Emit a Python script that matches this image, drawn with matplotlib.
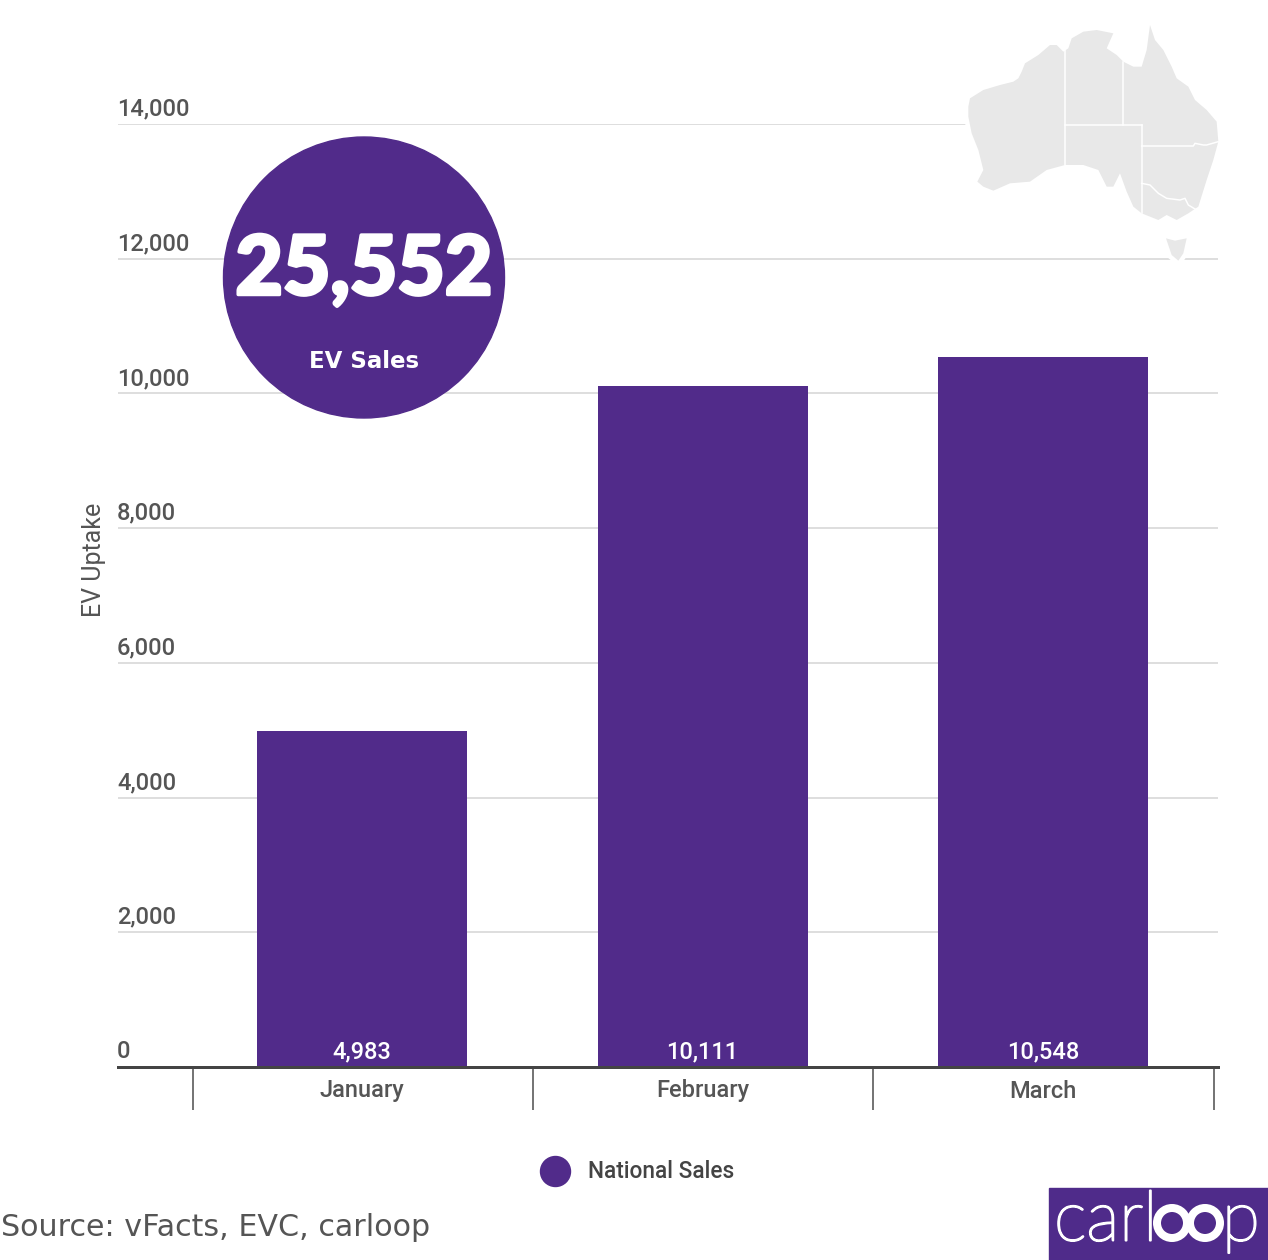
from matplotlib import pyplot as plt
from matplotlib import patheffects as pe
from matplotlib.lines import Line2D
from matplotlib.patches import Circle, Polygon, Rectangle, Ellipse

months = ["January", "February", "March"]
sales = [4983, 10111, 10548]
sale_labels = ["4,983", "10,111", "10,548"]
y_ticks = [0, 2000, 4000, 6000, 8000, 10000, 12000, 14000]
y_labels = ["0", "2,000", "4,000", "6,000", "8,000", "10,000", "12,000", "14,000"]

# map, zoom crop coords
mainland = [(55,290),(60,265),(100,240),(150,225),(190,215),(205,205),(215,185),(225,160),(265,135),(300,105),(320,105),
            (340,125),(355,115),(365,85),(400,65),(440,60),(490,70),(470,115),(500,135),(520,155),(550,170),
            (575,170),(590,120),(600,45),(615,90),(640,120),(665,170),(680,205),(715,230),(735,270),(770,300),
            (800,335),(805,395),(790,450),(770,510),(745,590),(715,610),(680,630),(650,615),(625,630),(575,610),
            (550,590),(530,545),(510,490),(490,530),(470,530),(445,480),(400,465),(345,465),(290,480),(240,515),
            (180,520),(130,542),(100,530),(82,515),(100,480),(85,420),(65,370),(55,320)]
tasmania = [(648,685),(675,692),(710,685),(700,730),(685,752),(665,735)]
borders = [[(345,120),(345,465)],
           [(345,345),(575,345)],
           [(520,155),(520,345)],
           [(575,345),(575,610)],
           [(575,408),(730,408),(735,400),(760,405),(770,405),(805,395)],
           [(575,520),(600,525),(625,550),(650,565),(690,570),(705,565),(715,585),(740,600)]]

PURPLE = '#512b8a'
TEXT = '#555555'
W, H = 1268, 1260
px = 0.72  # points per pixel at dpi 100


def toPixels(points):
    return [(950 + p[0] / 3, 10 + p[1] / 3) for p in points]


plt.rcParams['font.family'] = ['Roboto', 'DejaVu Sans']

fig = plt.figure(figsize=(W / 100, H / 100), dpi=100, facecolor='white')
ax = fig.add_axes([118 / W, (H - 1067) / H, 1100 / W, 943 / H])

x = list(range(len(months)))
bars = ax.bar(x, sales, width=0.617, color=PURPLE, zorder=2)
ax.set_xlim(-0.717, 2.514)
ax.set_ylim(0, 14000)

ax.set_yticks(y_ticks)
ax.set_yticklabels([])
ax.tick_params(axis='y', length=0)
ax.grid(axis='y', color='#dedede', lw=2 * px, zorder=0)
ax.set_axisbelow(True)

for v, lab in zip(y_ticks, y_labels):
    ax.annotate(lab, xy=(0, v), xycoords=ax.get_yaxis_transform(), xytext=(-1 * px, 15 * px),
                textcoords='offset points', ha='left', va='center', fontsize=17, color=TEXT,
                weight='medium')

for i, lab in zip(x, sale_labels):
    ax.annotate(lab, xy=(i, 0), xytext=(0, 15 * px), textcoords='offset points',
                ha='center', va='center', fontsize=17, color='white', zorder=3, weight='medium')

ax.set_xticks(x)
ax.set_xticklabels(months, fontsize=17, color=TEXT, weight='medium')
ax.set_xticks([-0.498, 0.502, 1.502, 2.502], minor=True)
ax.tick_params(axis='x', which='major', length=0, pad=9)
ax.tick_params(axis='x', which='minor', length=43 * px, width=1.6 * px, color=TEXT)

for s in ['top', 'left', 'right']:
    ax.spines[s].set_visible(False)
ax.spines['bottom'].set_color('#444444')
ax.spines['bottom'].set_linewidth(3 * px)

fig.text(94.5 / W, 1 - 560 / H, "EV Uptake", rotation=90, ha='center', va='center', fontsize=18,
         color=TEXT)

# legend
handle = Line2D([], [], marker='o', ls='none', color=PURPLE, markersize=30 * px, label="National Sales")
fig.legend(handles=[handle], loc='center', bbox_to_anchor=(633 / W, 1 - 1172 / H), frameon=False,
           labelcolor='#444444', handletextpad=0.47,
           prop={'family': ['Roboto', 'DejaVu Sans'], 'size': 16.3, 'weight': 'medium'})

# everything decorative sits on a pixel overlay
over = fig.add_axes([0, 0, 1, 1], zorder=5)
over.set_xlim(0, W)
over.set_ylim(H, 0)
over.axis('off')
over.patch.set_alpha(0)

# white halo first so the gridlines stop short of the map
for shape in (mainland, tasmania):
    over.add_patch(Polygon(toPixels(shape), closed=True, fc='white', ec='white', lw=9 * px))
for shape in (mainland, tasmania):
    over.add_patch(Polygon(toPixels(shape), closed=True, fc='#e8e8e8', ec='none'))
for b in borders:
    pts = toPixels(b)
    over.plot([p[0] for p in pts], [p[1] for p in pts], color='white', lw=1.5 * px)

over.add_patch(Circle((364, 277.5), 140.5, color=PURPLE))
over.text(364, 271, "25,552", ha='center', va='center', color='white', fontsize=59,
          family=['Lato', 'DejaVu Sans'], weight='black',
          path_effects=[pe.withStroke(linewidth=2.5, foreground='white')])
over.text(364, 362, "EV Sales", ha='center', va='center', color='white', fontsize=16.5,
          family=['DejaVu Sans'], weight='bold')

over.text(1, 1228, "Source: vFacts, EVC, carloop", ha='left', va='center', color=TEXT, fontsize=21.7,
          family=['DejaVu Sans'])

# logo
over.add_patch(Rectangle((1049, 1188), 219, 72, color='#4f2b8a'))
over.text(1054, 1222, "carl", ha='left', va='center', color='white', fontsize=50,
          family=['Lato', 'DejaVu Sans'], weight='light',
          path_effects=[pe.withStroke(linewidth=1.5, foreground='white')])
for cx in (1172, 1205):
    over.add_patch(Ellipse((cx, 1223), 30, 30, fc='none', ec='white', lw=8 * px))
over.text(1222, 1222, "p", ha='left', va='center', color='white', fontsize=50,
          family=['Lato', 'DejaVu Sans'], weight='light',
          path_effects=[pe.withStroke(linewidth=1.5, foreground='white')])

plt.savefig("out.png", dpi=100)
